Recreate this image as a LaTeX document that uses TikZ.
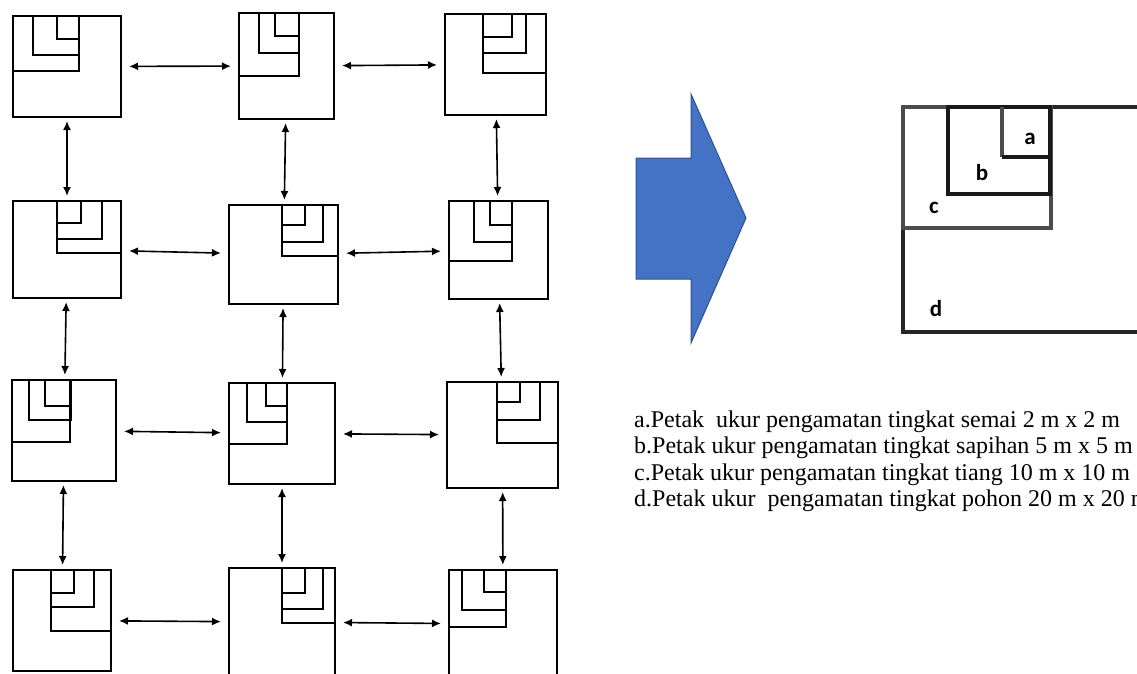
\documentclass[tikz,border=0pt]{standalone}
\usepackage{fontspec}
\setmainfont{Liberation Serif}
\newfontfamily\labelfont{Carlito}
\usetikzlibrary{arrows.meta}
\definecolor{arrowblue}{HTML}{4472C4}
\definecolor{arrowedge}{HTML}{2F528F}

% outer 20 m x 20 m plot drawn as a named node: name, left, top, right, bottom
\newcommand{\petak}[5]{%
  \node[plotbox, minimum width={(#4)-(#2)}, minimum height={(#5)-(#3)}]
    (#1) at ({((#2)+(#4))/2},{((#3)+(#5))/2}) {};}

\tikzset{
  plotbox/.style={draw, line width=1.9pt, inner sep=0pt, outer sep=0pt},
  subplot/.style={line width=1.9pt},
  link/.style={{Latex[length=9pt,width=8pt]}-{Latex[length=9pt,width=8pt]}, line width=1.6pt},
  hlink/.style={link, shorten <=8pt, shorten >=8pt},
  vlink/.style={link, shorten <=4pt, shorten >=5pt},
  bigplot/.style={draw=black!85, line width=3.4pt, inner sep=0pt, outer sep=0pt},
  innerdark/.style={draw=black!90, line width=3.4pt},
  innergrey/.style={draw=black!70, line width=3.4pt},
  tag/.style={font=\labelfont\bfseries\fontsize{23}{27}\selectfont, inner sep=0pt},
  legend/.style={font=\fontsize{24}{27}\selectfont, anchor=base west, inner sep=0pt},
}

\begin{document}
\begin{tikzpicture}[x=1pt,y=-1pt]
\useasboundingbox (0,0) rectangle (1137,673);
\clip (0,0) rectangle (1137,673);

% ---------- row 1 ----------
\petak{p11}{13}{16}{121}{117}
\draw[subplot] (13,16) rectangle (79,71) (33,16) rectangle (79,55) (57,16) rectangle (79,39);
\petak{p12}{239}{13}{334}{119}
\draw[subplot] (239,13) rectangle (299,76) (259,13) rectangle (299,53) (275,13) rectangle (299,36);
\petak{p13}{445}{14}{546}{115}
\draw[subplot] (483,14) rectangle (546,73) (483,14) rectangle (526,53) (483,14) rectangle (512,37);

% ---------- row 2 ----------
\petak{p21}{13}{201}{121}{298}
\draw[subplot] (57,201) rectangle (121,253) (57,201) rectangle (102,239) (57,201) rectangle (81,223);
\petak{p22}{229}{205}{338}{304}
\draw[subplot] (282,205) rectangle (338,256) (282,205) rectangle (323,242) (282,205) rectangle (305,225);
\petak{p23}{449}{201}{548}{299}
\draw[subplot] (449,201) rectangle (512,261) (474,201) rectangle (512,242) (490,201) rectangle (512,225);

% ---------- row 3 ----------
\petak{p31}{12}{380}{116}{481}
\draw[subplot] (12,380) rectangle (70,442) (29,380) rectangle (71,420) (45,380) rectangle (71,406);
\petak{p32}{229}{383}{335}{484}
\draw[subplot] (229,383) rectangle (287,444) (247,383) rectangle (287,422) (266,383) rectangle (287,406);
\petak{p33}{447}{382}{558}{488}
\draw[subplot] (497,382) rectangle (558,443) (497,382) rectangle (540,420) (497,382) rectangle (520,402);

% ---------- row 4 ----------
\petak{p41}{13}{570}{111}{671}
\draw[subplot] (51,570) rectangle (111,631) (51,570) rectangle (94,607) (51,570) rectangle (74,593);
\petak{p42}{229}{568}{335}{676}
\draw[subplot] (282,568) rectangle (335,623) (282,568) rectangle (323,609) (282,568) rectangle (305,593);
\petak{p43}{449}{570}{557}{678}
\draw[subplot] (449,570) rectangle (506,627) (462,570) rectangle (506,610) (484,570) rectangle (506,592);

% ---------- links between neighbouring plots ----------
\foreach \r in {1,2,3,4}{
  \draw[hlink] (p\r1) -- (p\r2);
  \draw[hlink] (p\r2) -- (p\r3);
}
\foreach \c in {1,2,3}{
  \draw[vlink] (p1\c) -- (p2\c);
  \draw[vlink] (p2\c) -- (p3\c);
  \draw[vlink] (p3\c) -- (p4\c);
}

% ---------- block arrow ----------
\draw[fill=arrowblue, draw=arrowedge, line width=1pt, line join=miter]
  (636,158) -- (691,158) -- (691,94) -- (746,218) -- (691,343) -- (691,279) -- (636,279) -- cycle;

% ---------- enlarged plot layout ----------
\node[bigplot, minimum width=260, minimum height=225] (pd) at (1033,219.5) {};
\draw[innergrey] (903,107) rectangle (1051,228);
\draw[innerdark] (948,107) rectangle (1050,194);
\draw[innergrey] (1002,107) -- (1002,157);
\draw[innerdark] (1002,157) -- (1050,157);
\node[tag] (ta) at (1030,139) {a};
\node[tag] (tb) at (982,173) {b};
\node[tag] (tc) at (934,208) {c};
\node[tag] (td) at (936,309) {d};

% ---------- legend ----------
\node[legend] (la) at (634,427) {a.Petak\ \ ukur pengamatan tingkat semai 2 m x 2 m};
\node[legend] (lb) at (634,453.5) {b.Petak ukur pengamatan tingkat sapihan 5 m x 5 m};
\node[legend] (lc) at (634,480) {c.Petak ukur pengamatan tingkat tiang 10 m x 10 m};
\node[legend] (ld) at (634,506.5) {d.Petak ukur\ \ pengamatan tingkat pohon 20 m x 20 m};
\end{tikzpicture}
\end{document}
